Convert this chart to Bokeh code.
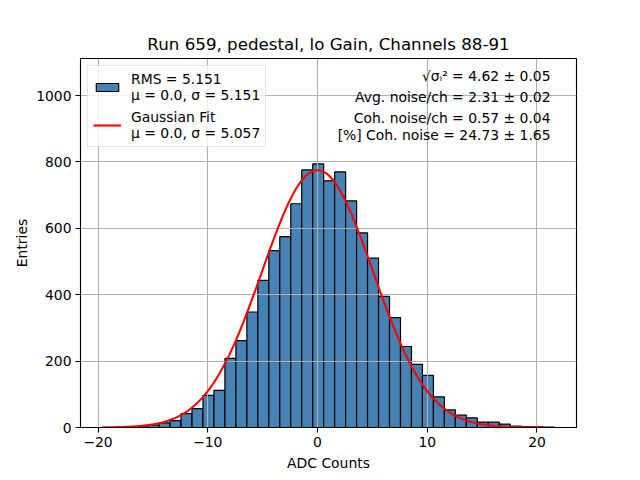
import numpy as np
from bokeh.plotting import figure
from bokeh.models import (Legend, LegendItem, Label, FixedTicker, Range1d,
                          ColumnDataSource)
from bokeh.embed import file_html
from bokeh.resources import INLINE

# ---------------- data ----------------
bin_width = 1.0
bin_left = [-16.44, -15.44, -14.44, -13.44, -12.44, -11.44, -10.44, -9.44,
            -8.44, -7.44, -6.44, -5.44, -4.44, -3.44, -2.44, -1.44, -0.44,
            0.56, 1.56, 2.56, 3.56, 4.56, 5.56, 6.56, 7.56, 8.56, 9.56,
            10.56, 11.56, 12.56, 13.56, 14.56, 15.56, 16.56, 17.56, 18.56,
            19.56, 20.56]
counts = [2, 7, 14, 21, 42, 57, 97, 112, 208, 262, 348, 443, 533, 575, 674,
          776, 794, 743, 770, 683, 586, 510, 395, 331, 244, 190, 157, 92, 53,
          37, 29, 16, 16, 10, 4, 3, 2, 1]

# Gaussian fit parameters (from the legend) and the fitted amplitude
mu_fit = 0.0
sigma_fit = 5.057
amp_fit = 775.0
fit_x_min = -19.6
fit_x_max = 20.5

title_text = "Run 659, pedestal, lo Gain, Channels 88-91"
hist_label = "RMS = 5.151\nμ = 0.0, σ = 5.151"
fit_label = "Gaussian Fit\nμ = 0.0, σ = 5.057"
stats_lines = ["√σᵢ² = 4.62 ± 0.05",
               "Avg. noise/ch = 2.31 ± 0.02",
               "Coh. noise/ch = 0.57 ± 0.04",
               "[%] Coh. noise = 24.73 ± 1.65"]
x_ticks = [-20, -10, 0, 10, 20]
y_ticks = [0, 200, 400, 600, 800, 1000]

# ---------------- plot ----------------
FONT = "DejaVu Sans"
p = figure(frame_width=496, frame_height=369, output_backend="svg",
           toolbar_location=None, x_range=Range1d(-21.6, 23.6),
           y_range=Range1d(0, 1111.6),
           min_border_left=80, min_border_right=64, min_border_top=58,
           min_border_bottom=53)
p.background_fill_color = "white"
p.border_fill_color = "white"
p.outline_line_color = "black"
p.outline_line_width = 1.1
p.outline_line_alpha = 1.0

p.title.text = title_text
p.title.align = "center"
p.title.text_font = FONT
p.title.text_font_size = "16.7px"
p.title.text_font_style = "normal"
p.title.text_color = "black"
p.title.standoff = 9

src = ColumnDataSource(dict(left=bin_left,
                            right=[l + bin_width for l in bin_left],
                            top=counts))
bars = p.quad(left="left", right="right", bottom=0, top="top", source=src,
              fill_color="#4682B4", line_color="black", line_width=1.2,
              level="image")

xs = np.linspace(fit_x_min, fit_x_max, 400)
ys = amp_fit * np.exp(-0.5 * ((xs - mu_fit) / sigma_fit) ** 2)
line = p.line(xs, ys, line_color="red", line_width=2.1)

for ax in (p.xaxis, p.yaxis):
    ax.major_label_text_font = FONT
    ax.major_label_text_font_size = "13.9px"
    ax.major_label_text_color = "black"
    ax.axis_label_text_font = FONT
    ax.axis_label_text_font_size = "13.9px"
    ax.axis_label_text_font_style = "normal"
    ax.axis_label_text_color = "black"
    ax.axis_line_color = "black"
    ax.major_tick_line_color = "black"
    ax.major_tick_line_width = 1.1
    ax.major_tick_out = 5
    ax.major_tick_in = 0
    ax.minor_tick_line_color = None
    ax.major_label_standoff = 4

p.xaxis.axis_label = "ADC Counts"
p.yaxis.axis_label = "Entries"
p.xaxis.axis_label_standoff = 5
p.yaxis.axis_label_standoff = 3
p.xaxis.ticker = FixedTicker(ticks=x_ticks)
p.yaxis.ticker = FixedTicker(ticks=y_ticks)
p.xaxis.major_label_overrides = {t: (str(t).replace("-", "\u2212")) for t in x_ticks}

for g in (p.xgrid, p.ygrid):
    g.grid_line_color = "#b0b0b0"
    g.grid_line_width = 1.1
p.xgrid.ticker = FixedTicker(ticks=x_ticks)
p.ygrid.ticker = FixedTicker(ticks=y_ticks)

legend = Legend(items=[LegendItem(label=hist_label, renderers=[bars]),
                       LegendItem(label=fit_label, renderers=[line])],
                location="top_left")
legend.label_text_font = FONT
legend.label_text_font_size = "13.9px"
legend.label_text_color = "black"
legend.border_line_color = "#cccccc"
legend.border_line_width = 1
legend.background_fill_color = "white"
legend.background_fill_alpha = 0.8
legend.margin = 7
legend.padding = 5
legend.spacing = 6
legend.glyph_width = 28
legend.glyph_height = 10
legend.label_standoff = 10
p.add_layout(legend)

# statistics text, right aligned in the upper right of the frame
stat_centers = [352, 331, 310, 293]  # px above the frame bottom
for txt, yc in zip(stats_lines, stat_centers):
    p.add_layout(Label(x=470, y=yc, x_units="screen", y_units="screen",
                       text=txt, text_align="right", text_baseline="middle",
                       text_font=FONT, text_font_size="13.9px",
                       text_color="black"))

open("out.html", "w").write(file_html(p, INLINE))
